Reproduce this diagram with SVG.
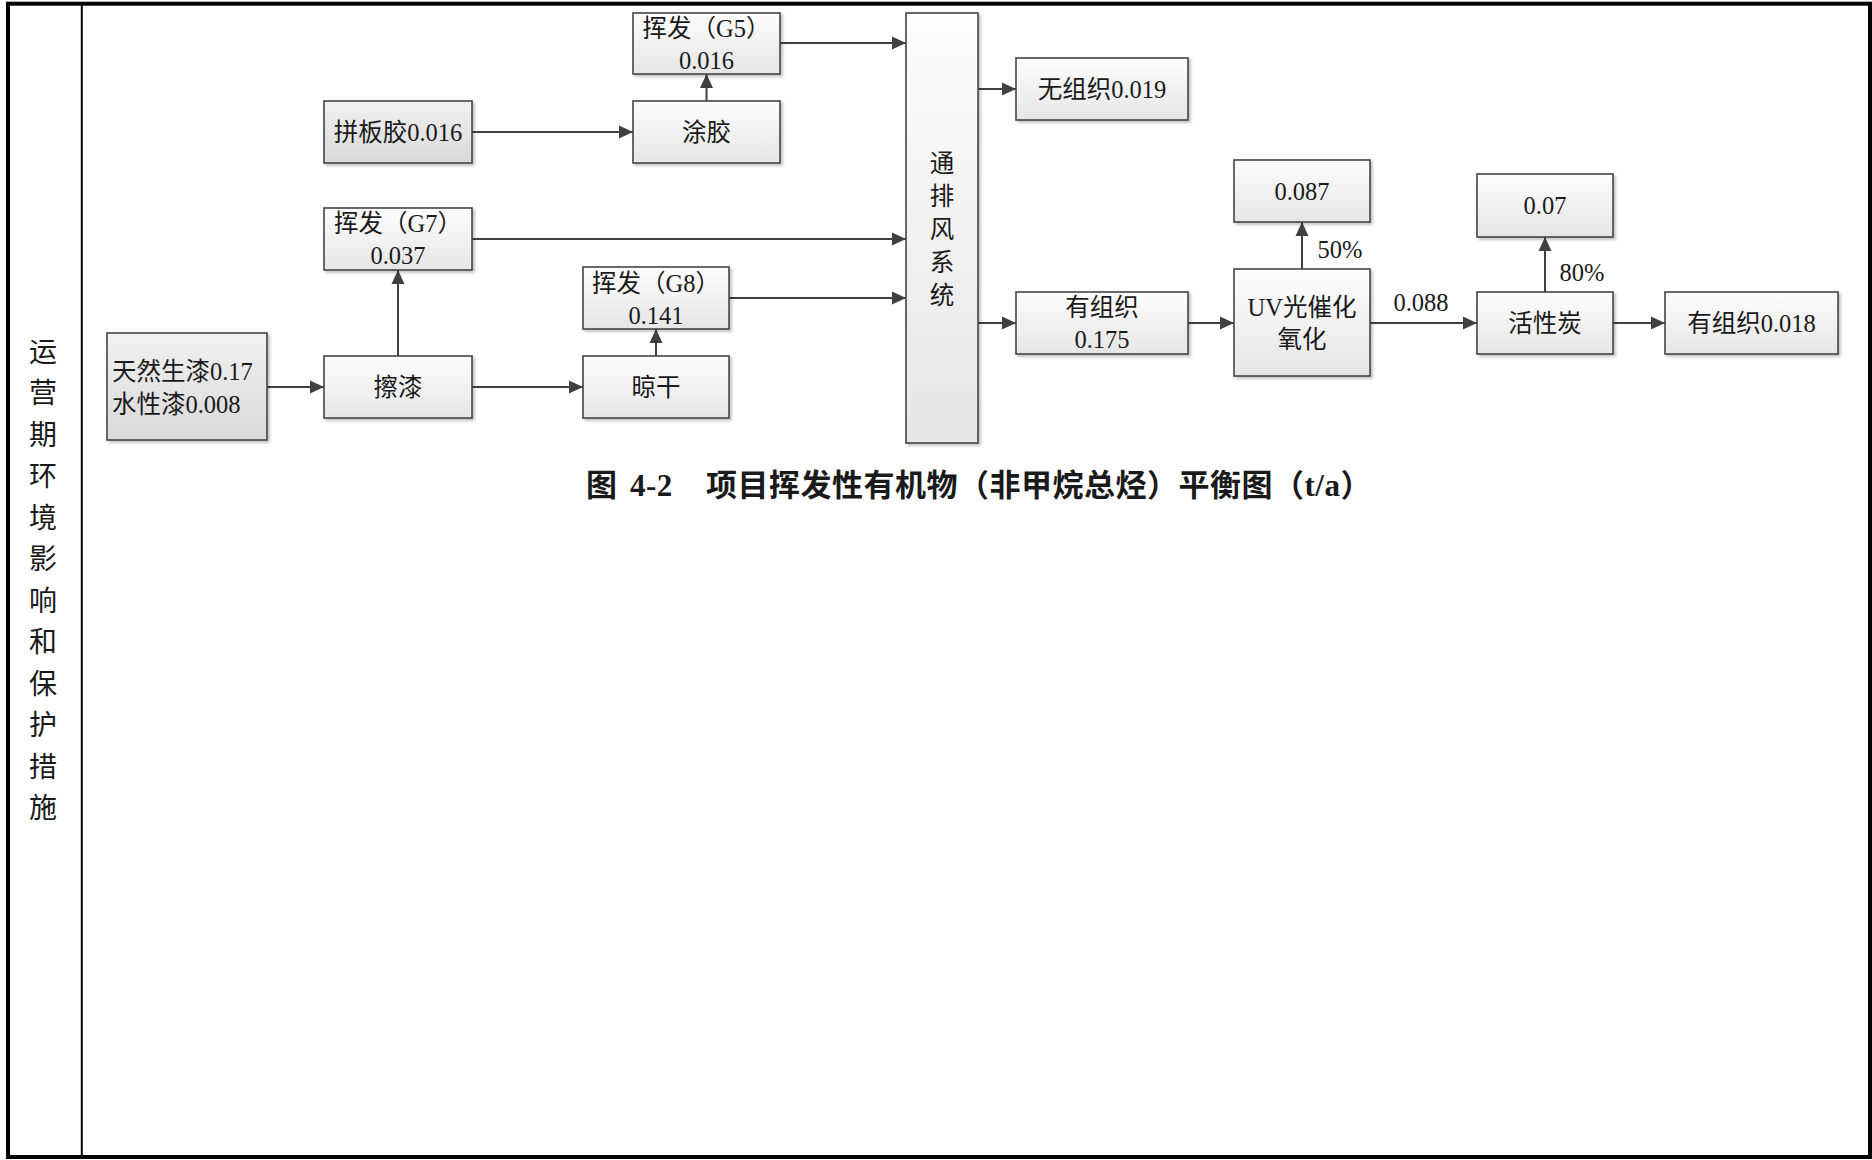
<svg xmlns="http://www.w3.org/2000/svg" width="1872" height="1160" viewBox="0 0 1872 1160">
<style>
text{font-family:'Liberation Serif','Noto Sans CJK SC',serif;fill:#1a1a1a;}
.t{font-size:24.5px;text-anchor:middle;dominant-baseline:central;}
.box{fill:url(#gl);stroke:#454545;stroke-width:1.6;filter:url(#sh);}
.dark{fill:url(#gd);}
.ln{fill:none;stroke:#404040;stroke-width:2;marker-end:url(#ar);}
.side{font-size:28px;text-anchor:middle;dominant-baseline:central;}
.title{font-size:31px;font-weight:bold;dominant-baseline:central;letter-spacing:0.5px;}
</style>
<defs>
<linearGradient id="gl" x1="0" y1="0" x2="0" y2="1"><stop offset="0" stop-color="#fdfdfd"/><stop offset="1" stop-color="#e6e6e6"/></linearGradient>
<linearGradient id="gd" x1="0" y1="0" x2="0" y2="1"><stop offset="0" stop-color="#f1f1f1"/><stop offset="1" stop-color="#d9d9d9"/></linearGradient>
<filter id="sh" x="-10%" y="-10%" width="130%" height="130%"><feDropShadow dx="2" dy="2" stdDeviation="1.5" flood-color="#000" flood-opacity="0.25"/></filter>
<marker id="ar" markerUnits="userSpaceOnUse" markerWidth="15" markerHeight="15" viewBox="0 0 15 15" refX="14" refY="7.5" orient="auto"><path d="M0,1 L14,7.5 L0,14 Z" fill="#404040"/></marker>
</defs>
<rect x="8" y="3.7" width="1862" height="1153.3" fill="#fff" stroke="#000" stroke-width="4"/>
<line x1="81.8" y1="4" x2="81.8" y2="1157" stroke="#000" stroke-width="2"/>
<g id="side-label">
<text class="side" x="43" y="352">运</text>
<text class="side" x="43" y="393.5">营</text>
<text class="side" x="43" y="435">期</text>
<text class="side" x="43" y="476.5">环</text>
<text class="side" x="43" y="518">境</text>
<text class="side" x="43" y="559.5">影</text>
<text class="side" x="43" y="601">响</text>
<text class="side" x="43" y="642.5">和</text>
<text class="side" x="43" y="684">保</text>
<text class="side" x="43" y="725.5">护</text>
<text class="side" x="43" y="767">措</text>
<text class="side" x="43" y="808.5">施</text>
</g>
<g id="connectors">
<path class="ln" d="M267,387 H324"/>
<path class="ln" d="M398,356 V270"/>
<path class="ln" d="M472,387 H583"/>
<path class="ln" d="M656,356 V329"/>
<path class="ln" d="M729,298 H906"/>
<path class="ln" d="M472,239 H906"/>
<path class="ln" d="M471,132 H633"/>
<path class="ln" d="M706.5,101 V74"/>
<path class="ln" d="M780,43 H906"/>
<path class="ln" d="M978,89 H1016"/>
<path class="ln" d="M978,323 H1016"/>
<path class="ln" d="M1188,323 H1234"/>
<path class="ln" d="M1302,269 V222"/>
<path class="ln" d="M1370,323 H1477"/>
<path class="ln" d="M1545,292 V237"/>
<path class="ln" d="M1613,323 H1665"/>
<text class="t" x="1340" y="249">50%</text>
<text class="t" x="1582" y="272">80%</text>
<text class="t" x="1421" y="302">0.088</text>
</g>
<g id="n-tianran"><rect class="box dark" x="107" y="333" width="160" height="107"/>
<text class="t" x="112" y="371" style="text-anchor:start">天然生漆0.17</text>
<text class="t" x="112" y="404" style="text-anchor:start">水性漆0.008</text></g>
<g id="n-cayi"><rect class="box" x="324" y="356" width="148" height="62"/><text class="t" x="398" y="387">擦漆</text></g>
<g id="n-g7"><rect class="box" x="324" y="208" width="148" height="62"/><text class="t" x="398" y="223.5">挥发（G7）</text><text class="t" x="398" y="255.5">0.037</text></g>
<g id="n-pinban"><rect class="box dark" x="324" y="101" width="148" height="62"/><text class="t" x="398" y="132">拼板胶0.016</text></g>
<g id="n-tujiao"><rect class="box" x="633" y="101" width="147" height="62"/><text class="t" x="706.5" y="132">涂胶</text></g>
<g id="n-g5"><rect class="box" x="633" y="13" width="147" height="61"/><text class="t" x="706.5" y="28">挥发（G5）</text><text class="t" x="706.5" y="60">0.016</text></g>
<g id="n-g8"><rect class="box" x="583" y="267" width="146" height="62"/><text class="t" x="656" y="283">挥发（G8）</text><text class="t" x="656" y="315">0.141</text></g>
<g id="n-lianggan"><rect class="box" x="583" y="356" width="146" height="62"/><text class="t" x="656" y="387">晾干</text></g>
<g id="n-tongpaifeng"><rect class="box" x="906" y="13" width="72" height="430"/>
<text class="t" x="942" y="163">通</text><text class="t" x="942" y="196">排</text><text class="t" x="942" y="229">风</text><text class="t" x="942" y="262">系</text><text class="t" x="942" y="295">统</text></g>
<g id="n-wuzuzhi"><rect class="box" x="1016" y="58" width="172" height="62"/><text class="t" x="1102" y="89">无组织0.019</text></g>
<g id="n-youzuzhi1"><rect class="box" x="1016" y="292" width="172" height="62"/><text class="t" x="1102" y="307">有组织</text><text class="t" x="1102" y="339">0.175</text></g>
<g id="n-uv"><rect class="box" x="1234" y="269" width="136" height="107"/><text class="t" x="1302" y="307">UV光催化</text><text class="t" x="1302" y="339">氧化</text></g>
<g id="n-087"><rect class="box" x="1234" y="160" width="136" height="62"/><text class="t" x="1302" y="191">0.087</text></g>
<g id="n-hxt"><rect class="box" x="1477" y="292" width="136" height="62"/><text class="t" x="1545" y="323">活性炭</text></g>
<g id="n-07"><rect class="box" x="1477" y="174" width="136" height="63"/><text class="t" x="1545" y="205.5">0.07</text></g>
<g id="n-youzuzhi2"><rect class="box" x="1665" y="292" width="173" height="62"/><text class="t" x="1751.5" y="323">有组织0.018</text></g>
<g id="caption">
<text class="title" x="586" y="485">图</text>
<text class="title" x="630" y="485">4-2</text>
<text class="title" x="706" y="485">项目挥发性有机物（非甲烷总烃）平衡图（t/a）</text>
</g>
</svg>
